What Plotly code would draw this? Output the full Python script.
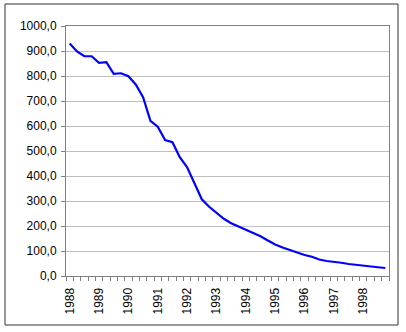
import plotly.graph_objects as go

# Quarterly series, 1988 Q1 .. 1998 Q4
years = [str(y) for y in range(1988, 1999)]
quarters_per_year = 4
values = [930, 898, 879, 879, 853, 855, 809, 811, 799, 766, 715, 621,
          597, 544, 535, 475, 435, 371, 307, 277, 251, 229, 211, 198,
          186, 175, 159, 142, 126, 114, 104, 92, 84, 77, 66, 60,
          58, 53, 48, 44, 40, 38, 35, 32]
y_ticks = list(range(0, 1001, 100))
y_tick_labels = [f"{v},0" for v in y_ticks]

x = list(range(len(values)))
year_pos = [i * quarters_per_year for i in range(len(years))]

fig = go.Figure()
fig.add_trace(go.Scatter(
    x=x, y=values, mode="lines",
    line=dict(color="#0000FF", width=2.2),
    hoverinfo="skip",
))

font = dict(family="Liberation Sans, Arial, sans-serif", size=12, color="#000000")

fig.update_layout(
    width=406, height=332,
    margin=dict(l=66, r=17, t=26, b=56),
    paper_bgcolor="#FFFFFF", plot_bgcolor="#FFFFFF",
    showlegend=False,
    font=font,
    xaxis=dict(
        range=[-0.5, len(values) - 0.5],
        tickmode="array", tickvals=year_pos, ticktext=years,
        tickangle=-90, ticks="", showgrid=False, zeroline=False,
        showline=True, linecolor="#808080", linewidth=1, mirror=True,
        minor=dict(ticks="outside", ticklen=4, tickcolor="#808080",
                   tick0=-0.5, dtick=1, showgrid=False),
        tickfont=font, ticklabelstandoff=6,
    ),
    yaxis=dict(
        range=[0, 1000],
        tickmode="array", tickvals=y_ticks, ticktext=y_tick_labels,
        ticks="outside", ticklen=4, tickcolor="#808080",
        showgrid=True, gridcolor="#C0C0C0", gridwidth=1,
        zeroline=False,
        showline=True, linecolor="#808080", linewidth=1, mirror=True,
        tickfont=font, ticklabelstandoff=2,
    ),
    shapes=[dict(
        type="rect", xref="paper", yref="paper",
        x0=(5 - 66) / 323, x1=(398 - 66) / 323,
        y0=(276 - 325) / 250, y1=(276 - 4) / 250,
        line=dict(color="#333333", width=1), layer="below",
    )],
)

fig.write_html("out.html")
